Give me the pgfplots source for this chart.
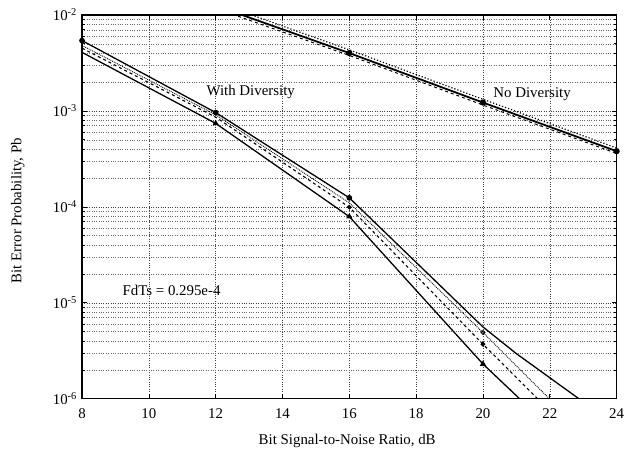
\documentclass[border=0pt]{standalone}
\usepackage{fontspec}
\setmainfont{Liberation Serif}
\usepackage{pgfplots}
\pgfplotsset{compat=1.18}
\begin{document}
\fontsize{15}{17}\selectfont
\begin{tikzpicture}
\begin{semilogyaxis}[
  scale only axis, width=539pt, height=387pt,
  xmin=8, xmax=24, ymin=1e-6, ymax=1e-2,
  xtick={8,10,...,24},
  ytick={1e-6,1e-5,1e-4,1e-3,1e-2},
  yticklabels={10\textsuperscript{-6},10\textsuperscript{-5},10\textsuperscript{-4},10\textsuperscript{-3},10\textsuperscript{-2}},
  /pgf/number format/assume math mode=true,
  tick align=inside, tick pos=both,
  major tick length=5pt, minor tick length=3pt,
  grid=both,
  major grid style={black!75, dotted, line width=0.45pt},
  minor grid style={black!60, dotted, line width=0.45pt},
  minor x tick num=0,
  axis line style={line width=1.3pt},
  tick style={black, line width=0.6pt},
  xticklabel style={font=\fontsize{15}{17}\selectfont, yshift=-5pt},
  yticklabel style={font=\fontsize{15}{17}\selectfont},
  xlabel={Bit Signal-to-Noise Ratio, dB},
  ylabel={Bit Error Probability, Pb},
  xlabel style={at={(axis description cs:0.496,-0.111)}, anchor=center, font=\fontsize{15}{17}\selectfont},
  ylabel style={at={(axis description cs:-0.12,0.49)}, anchor=center, rotate=0, font=\fontsize{15}{17}\selectfont},
  clip=true,
]
% No diversity band
\addplot[black, line width=1.8pt, mark=*, mark size=2.2pt, mark options={solid}] coordinates {(12,1.25e-2) (16,4.0e-3) (20,1.22e-3) (24,3.8e-4)};
\addplot[black, line width=1.2pt, dotted] coordinates {(12,1.36e-2) (16,4.32e-3) (20,1.32e-3) (24,4.1e-4)};
\addplot[black, line width=1.0pt, dashed] coordinates {(12,1.17e-2) (16,3.78e-3) (20,1.15e-3) (24,3.6e-4)};
% With diversity: upper solid
\addplot[black, line width=1.3pt, mark=*, mark size=2.2pt, mark options={solid}, mark indices={1,2,3}] coordinates {(8,5.4e-3) (12,9.6e-4) (16,1.24e-4) (20,5.6e-6) (21,2.95e-6) (24,5.2e-7)};
% dotted
\addplot[black, line width=0.9pt, densely dotted, mark=o, mark size=2pt, mark options={solid}, mark indices={4}] coordinates {(8,4.8e-3) (12,9.1e-4) (16,1.1e-4) (20,4.9e-6) (24,2.0e-7)};
% dashed
\addplot[black, line width=1.1pt, dashed, mark=*, mark size=1.8pt, mark options={solid}, mark indices={3,4}] coordinates {(8,4.5e-3) (12,8.6e-4) (16,9.9e-5) (20,3.7e-6) (24,1.5e-7)};
% lower solid
\addplot[black, line width=1.3pt, mark=triangle*, mark size=2.4pt, mark options={solid}, mark indices={2,3,4}] coordinates {(8,4.07e-3) (12,7.4e-4) (16,7.9e-5) (20,2.3e-6) (24,1.1e-7)};
\node at (axis cs:13.05,1.56e-3) {With Diversity};
\node at (axis cs:21.47,1.49e-3) {No Diversity};
\node at (axis cs:10.68,1.33e-5) {FdTs = 0.295e-4};
\end{semilogyaxis}
\path (current axis.south west) ++(-82.7pt,-59pt) coordinate (bbA);
\path (current axis.north east) ++(7.3pt,15pt) coordinate (bbB);
\useasboundingbox (bbA) rectangle (bbB);
\end{tikzpicture}
\end{document}
